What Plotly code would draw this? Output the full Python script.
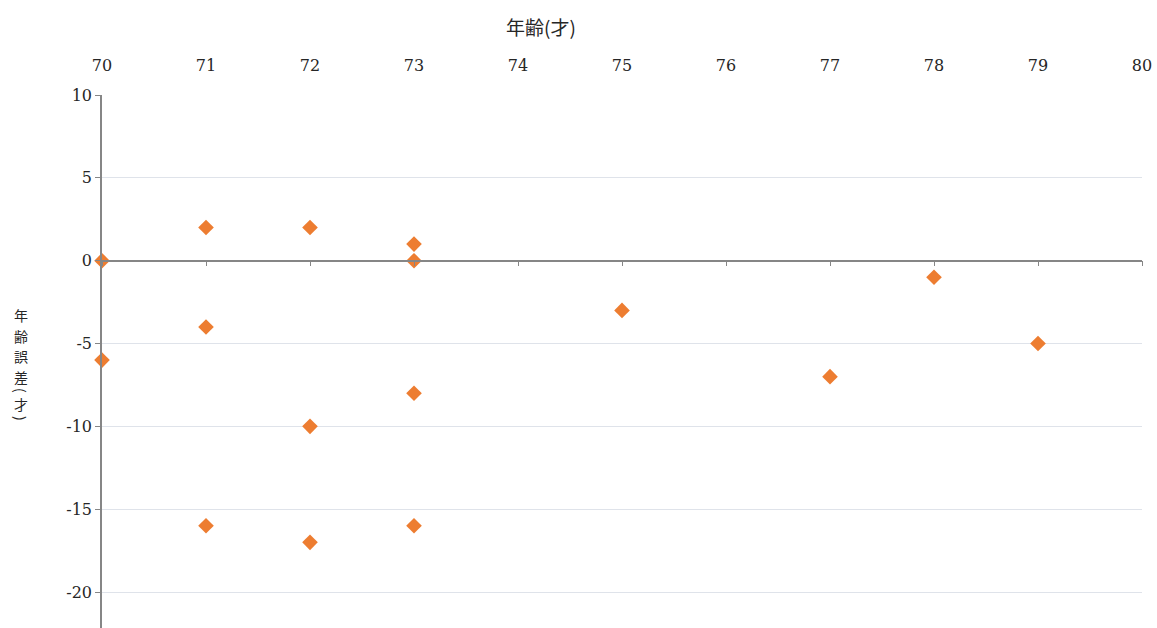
import plotly.graph_objects as go

# Age (years) and the corresponding age-estimation error (years)
ages = [70, 70, 71, 71, 71, 72, 72, 72, 73, 73, 73, 73, 75, 77, 78, 79]
errors = [0, -6, 2, -4, -16, 2, -10, -17, 1, 0, -8, -16, -3, -7, -1, -5]

x_ticks = [70, 71, 72, 73, 74, 75, 76, 77, 78, 79, 80]
y_ticks = [10, 5, 0, -5, -10, -15, -20]
y_tick_text = ["10", "5", "0", "-5", "-10", "-15", "-20"]

x_title = "年齢(才)"
y_title_chars = ["年", "齢", "誤", "差", "(", "才", ")"]

y_min, y_max = -22.17, 10
zero_pos = (0 - y_min) / (y_max - y_min)

serif = "DejaVu Serif, Liberation Serif, serif"
cjk = "Noto Sans CJK JP, Noto Sans CJK SC, sans-serif"
text_color = "#262626"

fig = go.Figure()
fig.add_trace(go.Scatter(
    x=ages, y=errors, mode="markers",
    marker=dict(symbol="diamond", size=12, color="#ED7D31"),
    cliponaxis=False, showlegend=False,
))

# invisible trace to attach the zero-line axis
fig.add_trace(go.Scatter(x=[70], y=[0], xaxis="x2", mode="markers",
                         marker=dict(opacity=0), hoverinfo="skip",
                         showlegend=False))

# vertical (stacked) y-axis title; brackets turned for vertical writing
plot_h = 628 - 95
centers_px = [315, 335.5, 356, 376.5, 390, 404, 418]
annotations = [
    dict(text=x_title, xref="paper", yref="paper",
         x=(541 - 102) / 1040, y=1 + (95 - 27) / plot_h,
         xanchor="center", yanchor="middle", showarrow=False,
         font=dict(family=cjk, size=19, color=text_color)),
]
for ch, cy in zip(y_title_chars, centers_px):
    is_bracket = ch in "()"
    annotations.append(dict(
        text=ch, xref="paper", yref="paper",
        x=(21 - 102) / 1040, y=(628 - cy) / plot_h,
        xanchor="center", yanchor="middle", showarrow=False,
        borderpad=0,
        textangle=90 if is_bracket else 0,
        font=dict(family=cjk, size=14, color=text_color)))

fig.update_layout(
    width=1157, height=628,
    margin=dict(l=102, r=15, t=95, b=0),
    paper_bgcolor="white", plot_bgcolor="white",
    xaxis=dict(
        range=[70, 80], side="top", tickvals=x_ticks,
        showgrid=False, zeroline=False, showline=False, ticks="",
        ticklabelstandoff=20,
        tickfont=dict(family=serif, size=16, color=text_color),
    ),
    xaxis2=dict(
        range=[70, 80], overlaying="x", matches="x", anchor="free",
        position=zero_pos, side="bottom", tickvals=x_ticks,
        showgrid=False, zeroline=False, showline=True,
        linecolor="#868686", linewidth=1.5,
        ticks="outside", ticklen=5, tickcolor="#868686",
        showticklabels=False,
    ),
    yaxis=dict(
        range=[y_min, y_max], tickvals=y_ticks, ticktext=y_tick_text,
        showgrid=True, gridcolor="#dfe3ea", gridwidth=1,
        zeroline=False, showline=True, linecolor="#868686", linewidth=1.5,
        ticks="outside", ticklen=5, tickcolor="#868686",
        tickfont=dict(family=serif, size=16, color=text_color),
    ),
    annotations=annotations,
)

fig.write_html("out.html")
